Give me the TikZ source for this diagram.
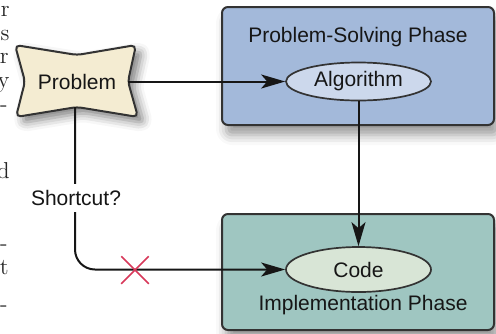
\documentclass[tikz,border=0pt]{standalone}
\usepackage{fontspec}
\newfontfamily\labelfont{Liberation Sans}
\usetikzlibrary{arrows.meta,shapes.geometric,shapes.misc,shadows.blur}

\definecolor{probfill}{HTML}{F4ECD2}
\definecolor{bluebox}{HTML}{A3B9DA}
\definecolor{algofill}{HTML}{CCD8EC}
\definecolor{tealbox}{HTML}{9FC6C1}
\definecolor{codefill}{HTML}{D8E5D6}
\definecolor{edge}{HTML}{333333}
\definecolor{ink}{HTML}{161616}
\definecolor{crossred}{HTML}{D8385A}

\begin{document}
\begin{tikzpicture}[x=0.5pt,y=-0.5pt,
  lbl/.style={font=\labelfont\fontsize{10.5}{12}\selectfont, text=ink},
  phase/.style={draw=edge, line width=1pt, rounded corners=3pt},
  oval/.style={ellipse, draw=edge, line width=0.85pt, inner sep=0pt, lbl},
  flow/.style={draw=ink, line width=1pt, -{Stealth[length=12pt,width=7pt,inset=3pt]}},
  margintext/.style={font=\fontsize{11.5}{13}\selectfont, text=black!85, anchor=base east, inner sep=0pt}
]
\useasboundingbox (0,0) rectangle (496,333);

% line ends of the running text at the left margin
\node[margintext] (m1) at (10,16) {r};
\node[margintext] (m2) at (10,40) {s};
\node[margintext] (m3) at (9,63) {r};
\node[margintext] (m4) at (10,87) {y};
\node[margintext] (m5) at (8,111) {-};
\node[margintext] (m6) at (10,178) {d};
\node[margintext] (m7) at (8,250) {-};
\node[margintext] (m8) at (9,274) {t};
\node[margintext] (m9) at (8,311) {-};

% the two phases
\path[phase, fill=bluebox, blur shadow={shadow xshift=2pt, shadow yshift=-5pt, shadow blur radius=5pt, shadow opacity=40}]
  (222,7) rectangle (494,125);
\path[phase, fill=tealbox, blur shadow={shadow xshift=2pt, shadow yshift=-5pt, shadow blur radius=5pt, shadow opacity=40}]
  (222,214) rectangle (494,330);

\node[lbl] (pstitle) at (358,37) {Problem-Solving Phase};
\node[oval, fill=algofill, minimum width=72.5pt, minimum height=19pt] (algo) at (358.5,81.5) {Algorithm};
\node[oval, fill=codefill, minimum width=72.5pt, minimum height=22.5pt] (code) at (358.5,269.5) {Code};
\node[lbl] (imtitle) at (363,305) {Implementation Phase};

% the problem, a pinched card
\path[draw=edge, line width=1pt, fill=probfill, rounded corners=2.5pt,
  blur shadow={shadow xshift=3pt, shadow yshift=-3pt, shadow blur radius=4.5pt, shadow opacity=50}]
  (15,45) -- (77,55) -- (136,45) -- (128,81.5) -- (138,117) -- (77,107) -- (16,117) -- (25,81.5) -- cycle;
\node[lbl] (prob) at (77,82) {Problem};
\coordinate (probR) at (128,81.5);
\coordinate (probB) at (75,107);

% connectors
\draw[flow] (probR) -- (algo.west);
\draw[flow] (algo.south) -- (code.north);
\draw[flow, rounded corners=10pt] (probB) |- (code.west);
\node[lbl, fill=white, inner xsep=1pt, inner ysep=0pt, minimum height=14pt] (short) at (76,198) {Shortcut?};
\node[cross out, draw=crossred, line width=0.75pt, minimum size=13pt, inner sep=0pt] (xmark) at (135,270) {};
\end{tikzpicture}
\end{document}
